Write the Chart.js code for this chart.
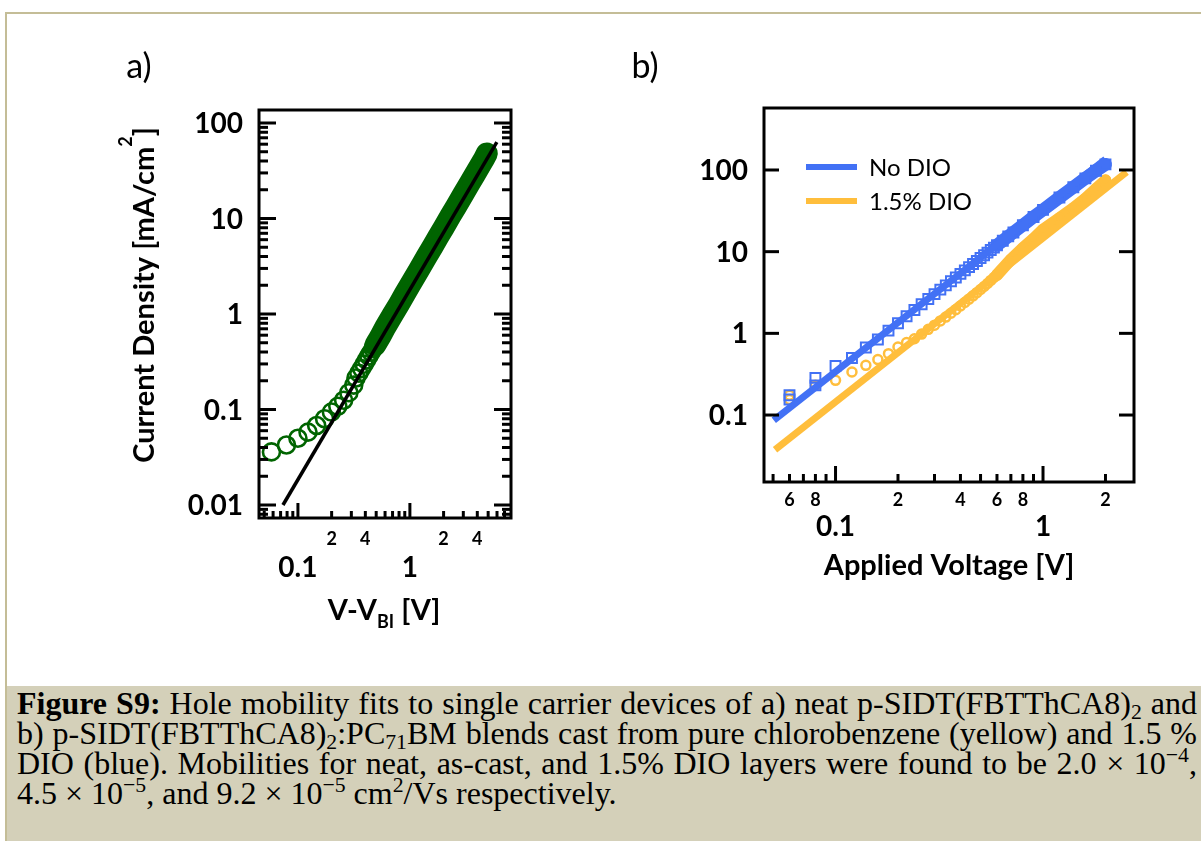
<!DOCTYPE html>
<html>
<head>
<meta charset="utf-8">
<script src="https://cdn.jsdelivr.net/npm/chart.js@4.4.1/dist/chart.umd.min.js"></script>
<style>
  html, body { margin: 0; padding: 0; background: #fff; }
  body { width: 1201px; height: 841px; position: relative; overflow: hidden; }
  #frame { position: absolute; left: 5px; top: 12px; width: 1220px; height: 860px;
           border-left: 2px solid #c4bd97; border-top: 2px solid #c4bd97; }
  canvas { position: absolute; top: 0; }
  #cA { left: 0; }
  #cB { left: 600px; }
  #caption { position: absolute; left: 7px; top: 686px; width: 1194px; height: 155px;
             background: #d4d0b9; font-family: "Liberation Serif", "Times New Roman", serif;
             font-size: 32px; line-height: 30px; color: #000; padding-top: 2px; box-sizing: border-box; }
  #caption .ln { padding: 0 4px 0 10px; white-space: nowrap; text-align: justify; text-align-last: justify; }
  #caption .ln.last { text-align-last: left; }
  #caption sub, #caption sup { font-size: 68%; line-height: 0; }
  #caption sub { vertical-align: -0.25em; }
  #caption sup { vertical-align: 0.55em; }
</style>
</head>
<body>
<div id="frame"></div>
<canvas id="cA" width="600" height="680"></canvas>
<canvas id="cB" width="601" height="680"></canvas>
<div id="caption">
  <div class="ln"><b>Figure S9:</b> Hole mobility fits to single carrier devices of a) neat p-SIDT(FBTThCA8)<sub>2</sub> and</div>
  <div class="ln">b) p-SIDT(FBTThCA8)<sub>2</sub>:PC<sub>71</sub>BM blends cast from pure chlorobenzene (yellow) and 1.5 %</div>
  <div class="ln">DIO (blue). Mobilities for neat, as-cast, and 1.5% DIO layers were found to be 2.0 &times; 10<sup>&minus;4</sup>,</div>
  <div class="ln last">4.5 &times; 10<sup>&minus;5</sup>, and 9.2 &times; 10<sup>&minus;5</sup> cm<sup>2</sup>/Vs respectively.</div>
</div>
<script>
// ---------- panel a: neat film, V - V_BI [V] vs current density [mA/cm2]
const neatV = [0.058, 0.079, 0.100, 0.123, 0.147, 0.173, 0.199, 0.227, 0.256, 0.285, 0.315,
               0.33, 0.35, 0.37, 0.39, 0.41, 0.43, 0.45, 0.47, 0.49, 0.51, 0.53, 0.55,
               0.60, 0.70, 0.80, 0.90, 1.0, 1.2, 1.4, 1.6, 1.8, 2.0, 2.3, 2.6, 3.0, 3.4, 3.8, 4.2, 4.6, 4.87];
const neatJ = [0.036, 0.0425, 0.050, 0.058, 0.068, 0.080, 0.094, 0.108, 0.125, 0.150, 0.180,
               0.214, 0.240, 0.268, 0.298, 0.330, 0.363, 0.397, 0.433, 0.471, 0.510, 0.551, 0.593,
               0.72, 0.98, 1.27, 1.62, 2.0, 2.87, 3.92, 5.1, 6.5, 8.0, 10.6, 13.5, 18.0, 23.1, 28.8, 35.2, 42.2, 48];
const neatFitV = [0.0735, 5.98];
const neatFitJ = [0.01, 63];
const neatBandFrom = 0.49;   // markers overlap into a solid band above this voltage

// ---------- panel b: blends, applied voltage [V] vs current density
const noDioV = [0.06, 0.06, 0.08, 0.08, 0.10, 0.12, 0.14, 0.16, 0.18, 0.20, 0.22, 0.24, 0.26, 0.28, 0.30,
                0.32, 0.34, 0.36, 0.38, 0.40, 0.42, 0.44, 0.46, 0.48, 0.50, 0.52, 0.54, 0.56, 0.58, 0.60,
                0.64, 0.68, 0.72, 0.80, 0.90, 1.0, 1.2, 1.4, 1.6, 1.8, 2.0];
const noDioJ = [0.155, 0.175, 0.231, 0.285, 0.40, 0.50, 0.67, 0.84, 1.08, 1.33, 1.62, 1.93, 2.27, 2.63, 3.02,
                3.43, 3.87, 4.34, 4.83, 5.35, 5.9, 6.47, 7.07, 7.7, 8.35, 9.03, 9.74, 10.5, 11.2, 12.0,
                13.6, 15.4, 17.2, 21.1, 26.6, 32.5, 46, 61.5, 79, 98, 117];
const noDioFitV = [0.0504, 2.0];
const noDioFitJ = [0.0862, 135.6];

const dioV = [0.06, 0.06, 0.08, 0.10, 0.12, 0.14, 0.16, 0.18, 0.20, 0.22, 0.24, 0.26, 0.28, 0.30,
              0.32, 0.34, 0.36, 0.38, 0.40, 0.42, 0.44, 0.46, 0.48, 0.50, 0.52, 0.54, 0.56, 0.58, 0.60,
              0.70, 0.80, 0.90, 1.0, 1.2, 1.4, 1.6, 1.8, 2.0];
const dioJ = [0.155, 0.175, 0.231, 0.266, 0.336, 0.406, 0.477, 0.564, 0.68, 0.77, 0.86, 0.98, 1.12, 1.26,
              1.42, 1.58, 1.76, 1.95, 2.16, 2.39, 2.62, 2.88, 3.15, 3.44, 3.75, 4.08, 4.45, 4.82, 5.2,
              8.0, 11.1, 14.4, 18.6, 25.8, 34, 44.6, 58.6, 74.7];
const dioFitV = [0.0511, 2.53];
const dioFitJ = [0.0377, 94.2];
const bBandFrom = 0.6;

const seriesLabels = ['No DIO', '1.5% DIO'];

// ---------- ticks
const aXMajor = [0.1, 1];
const aXMajorText = ['0.1', '1'];
const aXMinor = [0.05, 0.06, 0.07, 0.08, 0.09, 0.2, 0.3, 0.4, 0.5, 0.6, 0.7, 0.8, 0.9, 2, 3, 4, 5, 6, 7];
const aXSmall = [0.2, 0.4, 2, 4];
const aXSmallText = ['2', '4', '2', '4'];
const aYMajor = [0.01, 0.1, 1, 10, 100];
const aYMajorText = ['0.01', '0.1', '1', '10', '100'];
const aYMinor = [0.008, 0.009, 0.02, 0.03, 0.04, 0.05, 0.06, 0.07, 0.08, 0.09,
                 0.2, 0.3, 0.4, 0.5, 0.6, 0.7, 0.8, 0.9, 2, 3, 4, 5, 6, 7, 8, 9,
                 20, 30, 40, 50, 60, 70, 80, 90];

const bXMajor = [0.1, 1];
const bXMajorText = ['0.1', '1'];
const bXMinor = [0.05, 0.06, 0.07, 0.08, 0.09, 0.2, 0.3, 0.4, 0.5, 0.6, 0.7, 0.8, 0.9, 2];
const bXSmall = [0.06, 0.08, 0.2, 0.4, 0.6, 0.8, 2];
const bXSmallText = ['6', '8', '2', '4', '6', '8', '2'];
const bYMajor = [0.1, 1, 10, 100];
const bYMajorText = ['0.1', '1', '10', '100'];

const GREEN = 'rgb(0,100,0)';
const BLUE = 'rgb(66,113,245)';
const ORANGE = 'rgb(255,190,60)';
const CLEAR = 'rgba(0,0,0,0)';
const FONT = 'Lato';

Chart.defaults.font.family = FONT;

function pts(xs, ys) {
  return xs.map((v, i) => ({x: v, y: ys[i]}));
}

function seg(ctx, x1, y1, x2, y2) {
  ctx.beginPath();
  ctx.moveTo(x1, y1);
  ctx.lineTo(x2, y2);
  ctx.stroke();
}

// draws the boxed frame, inward ticks and tick labels using the chart's scales
function makeAxes(cfg) {
  return {
    id: 'axes' + cfg.name,
    afterDatasetsDraw(chart) {
      const ctx = chart.ctx, a = chart.chartArea;
      const xs = chart.scales.x, ys = chart.scales.y;
      ctx.save();
      ctx.strokeStyle = '#000';
      ctx.lineWidth = 3;
      cfg.yMinor.forEach(v => {
        const p = ys.getPixelForValue(v);
        seg(ctx, a.left, p, a.left + cfg.yMinorLen, p);
        seg(ctx, a.right, p, a.right - cfg.yMinorLen, p);
      });
      cfg.yMajor.forEach(v => {
        const p = ys.getPixelForValue(v);
        seg(ctx, a.left, p, a.left + cfg.yMajorLen, p);
        seg(ctx, a.right, p, a.right - cfg.yMajorLen, p);
      });
      cfg.xMinor.forEach(v => {
        const p = xs.getPixelForValue(v);
        seg(ctx, p, a.bottom, p, a.bottom - cfg.xMinorLen);
      });
      cfg.xMajor.forEach(v => {
        const p = xs.getPixelForValue(v);
        seg(ctx, p, a.bottom, p, a.bottom - cfg.xMajorLen);
      });
      ctx.strokeRect(a.left, a.top, a.right - a.left, a.bottom - a.top);

      ctx.fillStyle = '#000';
      ctx.textBaseline = 'middle';
      ctx.font = 'bold 28px ' + FONT;
      ctx.textAlign = 'right';
      cfg.yMajor.forEach((v, i) => ctx.fillText(cfg.yText[i], a.left - 16, ys.getPixelForValue(v) + 1));
      ctx.textAlign = 'center';
      cfg.xMajor.forEach((v, i) => ctx.fillText(cfg.xText[i], xs.getPixelForValue(v), cfg.bigY));
      ctx.font = 'bold 18px ' + FONT;
      cfg.xSmall.forEach((v, i) => ctx.fillText(cfg.xSmallText[i], xs.getPixelForValue(v), cfg.smallY));
      ctx.font = '34px ' + FONT;
      ctx.fillText(cfg.panel, cfg.panelX, cfg.panelY);
      cfg.extra(ctx, a, chart);
      ctx.restore();
    }
  };
}

// ---------- chart a
new Chart(document.getElementById('cA'), {
  type: 'scatter',
  data: {
    datasets: [
      {
        label: 'fit',
        data: pts(neatFitV, neatFitJ),
        showLine: true,
        borderColor: '#000',
        borderWidth: 3.5,
        pointRadius: 0
      },
      {
        label: 'neat',
        data: pts(neatV, neatJ),
        showLine: true,
        borderColor: GREEN,
        borderWidth: 22,
        borderCapStyle: 'round',
        borderJoinStyle: 'round',
        segment: { borderColor: c => c.p0.parsed.x >= neatBandFrom ? GREEN : CLEAR },
        pointStyle: 'circle',
        pointRadius: 8.5,
        pointBorderWidth: 2.6,
        pointBorderColor: GREEN,
        pointBackgroundColor: CLEAR
      }
    ]
  },
  options: {
    responsive: false,
    animation: false,
    events: [],
    layout: { padding: { left: 259, top: 110, right: 89, bottom: 162 } },
    scales: {
      x: { type: 'logarithmic', min: 0.0449, max: 8.0, display: false },
      y: { type: 'logarithmic', min: 0.00731, max: 136.8, display: false }
    },
    plugins: { legend: { display: false }, tooltip: { enabled: false } }
  },
  plugins: [makeAxes({
    name: 'A',
    yMajor: aYMajor, yText: aYMajorText, yMinor: aYMinor, yMajorLen: 17, yMinorLen: 9,
    xMajor: aXMajor, xText: aXMajorText, xMinor: aXMinor, xMajorLen: 15, xMinorLen: 7,
    xSmall: aXSmall, xSmallText: aXSmallText,
    smallY: 539, bigY: 568,
    panel: 'a)', panelX: 139, panelY: 67,
    extra(ctx, a) {
      // x title: V-V_BI [V]
      ctx.textAlign = 'left';
      ctx.textBaseline = 'alphabetic';
      const big = 'bold 29px ' + FONT, sub = 'bold 18px ' + FONT;
      ctx.font = big; const w1 = ctx.measureText('V-V').width, w3 = ctx.measureText(' [V]').width;
      ctx.font = sub; const w2 = ctx.measureText('BI').width;
      let x0 = 384 - (w1 + w2 + w3) / 2;
      ctx.font = big; ctx.fillText('V-V', x0, 620);
      ctx.font = sub; ctx.fillText('BI', x0 + w1, 628);
      ctx.font = big; ctx.fillText(' [V]', x0 + w1 + w2, 620);
      // y title: Current Density [mA/cm2]
      ctx.save();
      ctx.translate(154, 295);
      ctx.rotate(-Math.PI / 2);
      const t1 = 'Current Density [mA/cm', t2 = '2', t3 = ']';
      ctx.font = big; const u1 = ctx.measureText(t1).width, u3 = ctx.measureText(t3).width;
      ctx.font = sub; const u2 = ctx.measureText(t2).width;
      const s0 = -(u1 + u2 + u3) / 2;
      ctx.font = big; ctx.fillText(t1, s0, 0);
      ctx.font = sub; ctx.fillText(t2, s0 + u1, -22);
      ctx.font = big; ctx.fillText(t3, s0 + u1 + u2, 0);
      ctx.restore();
    }
  })]
});

// ---------- chart b
new Chart(document.getElementById('cB'), {
  type: 'scatter',
  data: {
    datasets: [
      {
        label: 'No DIO fit',
        data: pts(noDioFitV, noDioFitJ),
        showLine: true, borderColor: BLUE, borderWidth: 7, pointRadius: 0
      },
      {
        label: seriesLabels[0],
        data: pts(noDioV, noDioJ),
        showLine: true,
        borderColor: BLUE,
        borderWidth: 13,
        borderCapStyle: 'round',
        borderJoinStyle: 'round',
        segment: { borderColor: c => c.p0.parsed.x >= bBandFrom ? BLUE : CLEAR },
        pointStyle: 'rect',
        pointRadius: 7,
        pointBorderWidth: 2,
        pointBorderColor: BLUE,
        pointBackgroundColor: CLEAR
      },
      {
        label: '1.5% DIO fit',
        data: pts(dioFitV, dioFitJ),
        showLine: true, borderColor: ORANGE, borderWidth: 7, pointRadius: 0
      },
      {
        label: seriesLabels[1],
        data: pts(dioV, dioJ),
        showLine: true,
        borderColor: ORANGE,
        borderWidth: 12,
        borderCapStyle: 'round',
        borderJoinStyle: 'round',
        segment: { borderColor: c => c.p0.parsed.x >= bBandFrom ? ORANGE : CLEAR },
        pointStyle: 'circle',
        pointRadius: 4.5,
        pointBorderWidth: 2.5,
        pointBorderColor: ORANGE,
        pointBackgroundColor: CLEAR
      }
    ]
  },
  options: {
    responsive: false,
    animation: false,
    events: [],
    layout: { padding: { left: 164, top: 108, right: 67, bottom: 198 } },
    scales: {
      x: { type: 'logarithmic', min: 0.04521, max: 2.745, display: false },
      y: { type: 'logarithmic', min: 0.01514, max: 574, display: false }
    },
    plugins: { legend: { display: false }, tooltip: { enabled: false } }
  },
  plugins: [makeAxes({
    name: 'B',
    yMajor: bYMajor, yText: bYMajorText, yMinor: [], yMajorLen: 15, yMinorLen: 0,
    xMajor: bXMajor, xText: bXMajorText, xMinor: bXMinor, xMajorLen: 16, xMinorLen: 8,
    xSmall: bXSmall, xSmallText: bXSmallText,
    smallY: 500, bigY: 527,
    panel: 'b)', panelX: 45, panelY: 67,
    extra(ctx, a, chart) {
      // x title
      ctx.font = 'bold 29px ' + FONT;
      ctx.textAlign = 'center';
      ctx.textBaseline = 'middle';
      ctx.fillText('Applied Voltage [V]', 349, 566);
      // legend
      const entries = [chart.data.datasets[1], chart.data.datasets[3]];
      ctx.font = '24px ' + FONT;
      ctx.textAlign = 'left';
      entries.forEach((ds, i) => {
        const yy = 167 + i * 34;
        ctx.strokeStyle = ds.borderColor;
        ctx.lineWidth = 6;
        seg(ctx, 206, yy, 257, yy);
        ctx.fillText(ds.label, 269, yy + 1);
      });
    }
  })]
});
</script>
</body>
</html>
